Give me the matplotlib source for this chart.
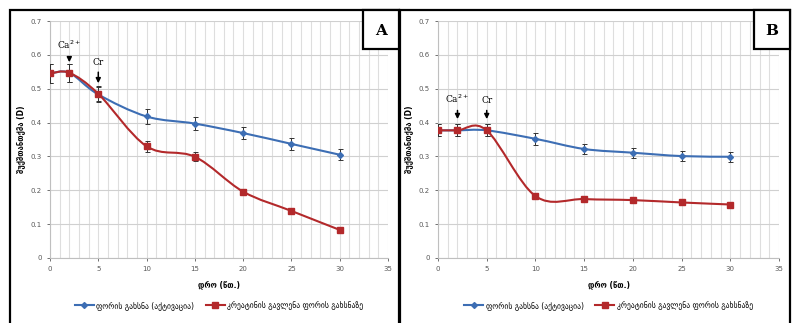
import matplotlib
matplotlib.use("Agg")
import matplotlib.pyplot as plt
from matplotlib.path import Path
from matplotlib.patches import PathPatch, Rectangle
from matplotlib.lines import Line2D
import numpy as np

plt.rcParams['font.family'] = ['DejaVu Sans']

# time points (min)
time = [0, 2, 5, 10, 15, 20, 25, 30]

# panel A
a_blue = [0.545, 0.547, 0.483, 0.418, 0.397, 0.369, 0.337, 0.305]
a_blue_err = [0.028, 0.026, 0.022, 0.022, 0.020, 0.018, 0.018, 0.016]
a_red = [0.545, 0.547, 0.485, 0.330, 0.299, 0.196, 0.139, 0.083]
a_red_err = [0.028, 0.026, 0.022, 0.016, 0.013, 0.008, 0.005, 0.004]

# panel B
b_blue = [0.377, 0.377, 0.377, 0.352, 0.322, 0.311, 0.301, 0.299]
b_blue_err = [0.018, 0.018, 0.018, 0.018, 0.016, 0.015, 0.015, 0.015]
b_red = [0.377, 0.377, 0.377, 0.183, 0.174, 0.171, 0.164, 0.158]
b_red_err = [0.018, 0.018, 0.018, 0.008, 0.006, 0.006, 0.005, 0.005]

# arrow annotations: (label, x, text y, arrow tip y)
a_arrows = [("Ca$^{2+}$", 2, 0.61, 0.570), ("Cr", 5, 0.565, 0.508)]
b_arrows = [("Ca$^{2+}$", 2, 0.452, 0.402), ("Cr", 5, 0.452, 0.402)]

legend_labels = ["ფორის გახსნა (აქტივაცია)", "კრეატინის გავლენა ფორის გახსნაზე"]
xlabel = "დრო (წთ.)"
ylabel = "შუქშთანთქმა (D)"

BLUE = "#3d6eb4"
RED = "#b3292b"


def smooth_path(x, y):
    # excel-like smoothed line (catmull-rom as cubic bezier)
    pts = np.column_stack([x, y]).astype(float)
    n = len(pts)
    verts = [pts[0]]
    codes = [Path.MOVETO]
    for i in range(n - 1):
        p0 = pts[i - 1] if i > 0 else pts[i]
        p1 = pts[i]
        p2 = pts[i + 1]
        p3 = pts[i + 2] if i + 2 < n else pts[i + 1]
        c1 = p1 + (p2 - p0) / 6
        c2 = p2 - (p3 - p1) / 6
        verts += [c1, c2, p2]
        codes += [Path.CURVE4] * 3
    return Path(verts, codes)


def draw_panel(ax, blue, blue_err, red, red_err, arrows):
    ax.set_xlim(0, 35)
    ax.set_ylim(0, 0.7)
    ax.set_xticks(range(0, 36, 5))
    ax.set_xticks(range(0, 36), minor=True)
    ax.set_yticks(np.arange(0, 0.71, 0.1))
    ax.set_yticklabels(["0", "0.1", "0.2", "0.3", "0.4", "0.5", "0.6", "0.7"])
    ax.grid(True, which='both', axis='x', color='#dedede', lw=0.8)
    ax.grid(True, which='major', axis='y', color='#d0d0d0', lw=0.8)
    ax.set_axisbelow(True)
    for s in ['top', 'right']:
        ax.spines[s].set_visible(False)
    for s in ['left', 'bottom']:
        ax.spines[s].set_color('#bfbfbf')
        ax.spines[s].set_linewidth(0.8)
    ax.tick_params(which='major', labelsize=5, colors='#595959', length=2.5, width=0.6)
    ax.tick_params(which='minor', length=0)
    for s, c in [(blue, BLUE), (red, RED)]:
        ax.add_patch(PathPatch(smooth_path(time, s), fill=False, edgecolor=c, lw=1.5, zorder=3))
    ax.errorbar(time, blue, yerr=blue_err, fmt='none', ecolor='#333333', elinewidth=0.7, capsize=1.8, capthick=0.7, zorder=4)
    ax.errorbar(time, red, yerr=red_err, fmt='none', ecolor='#333333', elinewidth=0.7, capsize=1.8, capthick=0.7, zorder=4)
    ax.plot(time, blue, ls='none', marker='D', ms=3, color=BLUE, zorder=5)
    ax.plot(time, red, ls='none', marker='s', ms=4.5, color=RED, zorder=5)
    for lab, x, ty, tip in arrows:
        ax.annotate("", xy=(x, tip), xytext=(x, ty - 0.008),
                    arrowprops=dict(arrowstyle='-|>', color='black', lw=1.1, mutation_scale=7), zorder=6)
        ax.text(x, ty, lab, ha='center', va='bottom', fontsize=6.5, family='DejaVu Serif')
    ax.set_xlabel(xlabel, fontsize=5.5, fontweight='bold', labelpad=6)
    ax.set_ylabel(ylabel, fontsize=5.5, fontweight='bold', labelpad=4)
    handles = [Line2D([], [], color=BLUE, marker='D', ms=3, lw=1.5),
               Line2D([], [], color=RED, marker='s', ms=4.5, lw=1.5)]
    ax.legend(handles, legend_labels, loc='center', bbox_to_anchor=(0.5, -0.2), ncol=2,
              frameon=False, fontsize=5.5, handlelength=2.5, handletextpad=0.3, columnspacing=1.5)


fig = plt.figure(figsize=(7.92, 3.23), dpi=100)
W, H = 792, 323

ax1 = fig.add_axes([50 / W, 1 - 258 / H, 338 / W, 237 / H])
ax2 = fig.add_axes([438 / W, 1 - 258 / H, 341 / W, 237 / H])
draw_panel(ax1, a_blue, a_blue_err, a_red, a_red_err, a_arrows)
draw_panel(ax2, b_blue, b_blue_err, b_red, b_red_err, b_arrows)

# outer frames
for x0, x1 in [(10, 399), (400, 790)]:
    fig.add_artist(Rectangle((x0 / W, -0.1), (x1 - x0) / W, 1.1 - 10 / H,
                             transform=fig.transFigure, fill=False, ec='black', lw=1.6))

# panel letter boxes
for x0, x1, letter in [(363, 399, "A"), (754, 790, "B")]:
    fig.add_artist(Rectangle((x0 / W, 1 - 49 / H), (x1 - x0) / W, 39 / H,
                             transform=fig.transFigure, fill=True, fc='white', ec='black', lw=1.6, zorder=10))
    fig.text((x0 + x1) / 2 / W, 1 - 31 / H, letter, ha='center', va='center',
             fontsize=11, fontweight='bold', family='DejaVu Serif', zorder=11)

fig.savefig("out.png", dpi=100)
